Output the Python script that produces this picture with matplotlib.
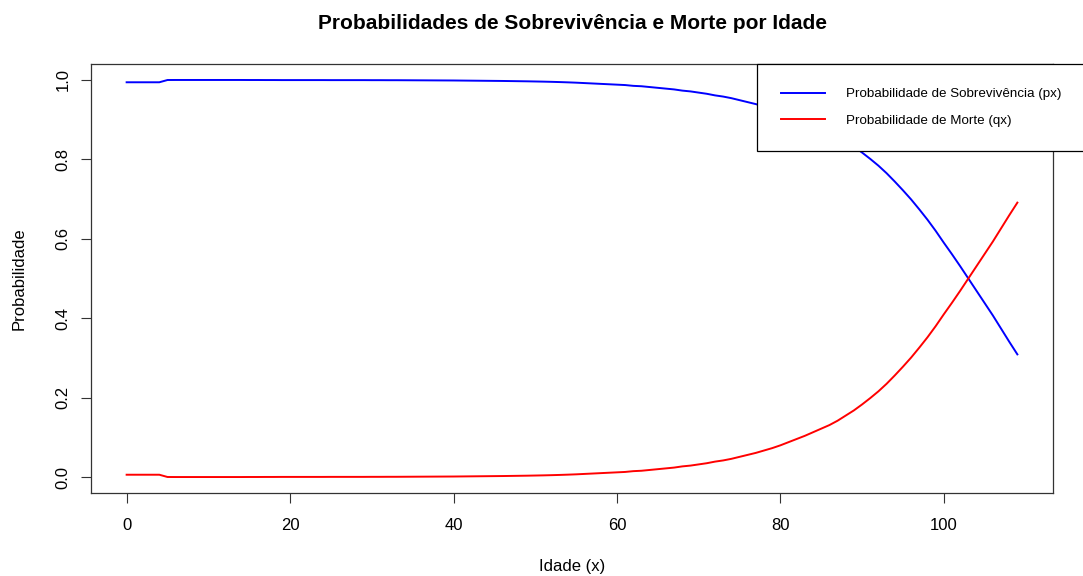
import matplotlib
matplotlib.use("Agg")
import matplotlib.pyplot as plt

# tabua de mortalidade (idades 0..109)
idades = list(range(0, 110))

qx = [0.0060, 0.0060, 0.0060, 0.0060, 0.0060,
      0.0003, 0.0002, 0.0002, 0.0002, 0.0002,
      0.0002, 0.0002, 0.0002, 0.0002, 0.0002,
      0.0003, 0.0003, 0.0004, 0.0004, 0.0005,
      0.0005, 0.0005, 0.0005, 0.0005, 0.0005,
      0.0006, 0.0006, 0.0006, 0.0006, 0.0006,
      0.0007, 0.0007, 0.0008, 0.0008, 0.0009,
      0.0010, 0.0011, 0.0012, 0.0013, 0.0014,
      0.0015, 0.0017, 0.0019, 0.0021, 0.0023,
      0.0025, 0.0027, 0.0030, 0.0033, 0.0036,
      0.0040, 0.0044, 0.0049, 0.0055, 0.0062,
      0.0070, 0.0080, 0.0090, 0.0100, 0.0110,
      0.0120, 0.0130, 0.0150, 0.0160, 0.0180,
      0.0200, 0.0220, 0.0240, 0.0270, 0.0290,
      0.0320, 0.0350, 0.0390, 0.0420, 0.0460,
      0.0510, 0.0560, 0.0610, 0.0670, 0.0730,
      0.0800, 0.0880, 0.0960, 0.1040, 0.1130,
      0.1220, 0.1310, 0.1420, 0.1550, 0.1680,
      0.1830, 0.1990, 0.2160, 0.2350, 0.2560,
      0.2780, 0.3010, 0.3260, 0.3520, 0.3800,
      0.4100, 0.4390, 0.4690, 0.5000, 0.5310,
      0.5620, 0.5930, 0.6260, 0.6590, 0.6910]

px = [0.9940, 0.9940, 0.9940, 0.9940, 0.9940,
      0.9997, 0.9998, 0.9998, 0.9998, 0.9998,
      0.9998, 0.9998, 0.9998, 0.9998, 0.9998,
      0.9997, 0.9997, 0.9996, 0.9996, 0.9995,
      0.9995, 0.9995, 0.9995, 0.9995, 0.9995,
      0.9994, 0.9994, 0.9994, 0.9994, 0.9994,
      0.9993, 0.9993, 0.9992, 0.9992, 0.9991,
      0.9990, 0.9989, 0.9988, 0.9987, 0.9986,
      0.9985, 0.9983, 0.9981, 0.9979, 0.9977,
      0.9975, 0.9973, 0.9970, 0.9967, 0.9964,
      0.9960, 0.9956, 0.9951, 0.9945, 0.9938,
      0.9930, 0.9920, 0.9910, 0.9900, 0.9890,
      0.9880, 0.9870, 0.9850, 0.9840, 0.9820,
      0.9800, 0.9780, 0.9760, 0.9730, 0.9710,
      0.9680, 0.9650, 0.9610, 0.9580, 0.9540,
      0.9490, 0.9440, 0.9390, 0.9330, 0.9270,
      0.9200, 0.9120, 0.9040, 0.8960, 0.8870,
      0.8780, 0.8690, 0.8580, 0.8450, 0.8320,
      0.8170, 0.8010, 0.7840, 0.7650, 0.7440,
      0.7220, 0.6990, 0.6740, 0.6480, 0.6200,
      0.5900, 0.5610, 0.5310, 0.5000, 0.4690,
      0.4380, 0.4070, 0.3740, 0.3410, 0.3090]

xticks = [0, 20, 40, 60, 80, 100]
yticks = [0.0, 0.2, 0.4, 0.6, 0.8, 1.0]
ytick_labels = ["0.0", "0.2", "0.4", "0.6", "0.8", "1.0"]

plt.rcParams['font.family'] = ['Liberation Sans', 'DejaVu Sans']

W, H = 1083, 576
fig = plt.figure(figsize=(W / 100, H / 100), dpi=100)
ax = fig.add_axes([91 / W, 1 - 493 / H, (1053 - 91) / W, (493 - 64) / H])

ax.plot(idades, px, color='#0000FF', lw=1.4, label='Probabilidade de Sobrevivência (px)')
ax.plot(idades, qx, color='#FF0000', lw=1.4, label='Probabilidade de Morte (qx)')

# limites como no R (4% de margem)
ax.set_xlim(-0.04 * 109, 109 * 1.04)
ax.set_ylim(-0.04, 1.04)

ax.set_xticks(xticks)
ax.set_xticklabels([str(t) for t in xticks])
ax.set_yticks(yticks)
ax.set_yticklabels(ytick_labels)
ax.tick_params(axis='both', length=7, width=0.8, color='#333333', labelsize=12)
ax.tick_params(axis='x', pad=11)
ax.tick_params(axis='y', pad=7.5, labelrotation=90)
plt.setp(ax.get_yticklabels(), va='center')

for s in ax.spines.values():
    s.set_color('#333333')
    s.set_linewidth(0.9)

ax.set_xlabel('Idade (x)', fontsize=12, va='center')
ax.xaxis.set_label_coords(0.5, (9 - 83) / 429)
ax.set_ylabel('Probabilidade', fontsize=12, va='center')
ax.yaxis.set_label_coords((19 - 91) / 962, 0.5)

# titulo centrado na regiao do grafico, como no R
fig.text(572 / W, 1 - 29 / H, 'Probabilidades de Sobrevivência e Morte por Idade',
         ha='center', va='baseline', fontsize=15, fontweight='bold')

leg = ax.legend(loc='upper left', bbox_to_anchor=(757 / W, 0, 400 / W, 1 - 64 / H),
                bbox_transform=fig.transFigure, mode='expand', fontsize=9.6,
                frameon=True, fancybox=False, framealpha=1, edgecolor='black',
                borderaxespad=0, borderpad=1.8, handlelength=3.3, handletextpad=1.6,
                labelspacing=1.08)
leg.get_frame().set_linewidth(0.9)

fig.savefig('out.png', dpi=100)
